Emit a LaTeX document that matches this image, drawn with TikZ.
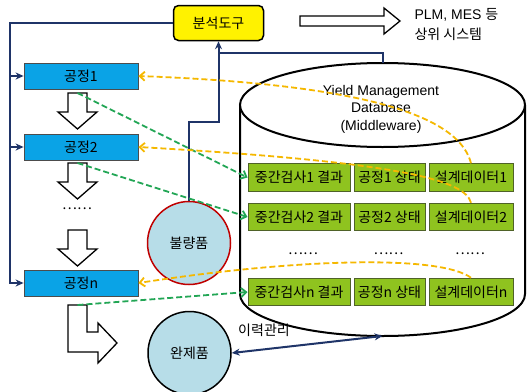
\documentclass[tikz,border=0pt]{standalone}
\usepackage{fontspec}
\setmainfont{Liberation Sans}
\newfontfamily\kr{Noto Sans CJK KR}
\usetikzlibrary{calc,arrows.meta}
\definecolor{procblue}{HTML}{0AA3E6}
\definecolor{itemgreen}{HTML}{8FC31F}
\definecolor{itemedge}{HTML}{4F6228}
\definecolor{ballfill}{HTML}{B7DDE8}
\definecolor{badred}{HTML}{C00000}
\definecolor{navyblue}{HTML}{1F3468}
\definecolor{goldline}{HTML}{F5B800}
\definecolor{dashgreen}{HTML}{22A655}
\def\hollowdown(#1,#2){\draw[hollow] (#1-9.5,#2) -- (#1+9.5,#2) -- (#1+9.5,#2+19) -- (#1+19.5,#2+19) -- (#1,#2+36) -- (#1-19.5,#2+19) -- (#1-9.5,#2+19) -- cycle;}
\tikzset{
	every node/.style={font=\kr\fontsize{14}{17}\selectfont},
	procbox/.style={draw=black!70, line width=0.8pt, fill=procblue, minimum width=114, minimum height=26, inner sep=1pt},
	itembox/.style={draw=itemedge, line width=1pt, fill=itemgreen, minimum height=27.5, inner sep=1pt},
	toolbox/.style={draw=black, line width=1.5pt, fill=yellow, rounded corners=5pt, minimum width=90, minimum height=35},
	ball/.style={circle, fill=ballfill, line width=1.5pt, minimum size=83, inner sep=0pt},
	navyline/.style={draw=navyblue, line width=2pt},
	golddash/.style={draw=goldline, line width=1.8pt, dash pattern=on 6pt off 3pt, -{Straight Barb[length=5pt,width=9pt]}},
	greendash/.style={draw=dashgreen, line width=1.8pt, dash pattern=on 6pt off 3pt, -{Straight Barb[length=5pt,width=9pt]}},
	hollow/.style={draw=black, line width=1.3pt, fill=white}
}

\begin{document}
\begin{tikzpicture}[x=1pt, y=-1pt]
			%%%%% START %%%%%
			\useasboundingbox (0,0) rectangle (527,391);
			
			% database cylinder
			\coordinate (dbtop) at (382.5,63);
			\coordinate (dbbot) at (382.5,336);
			\draw[line width=2pt, fill=white] (240,105) -- (240,294) arc[start angle=180, end angle=0, x radius=142.5, y radius=42] -- (525,105);
			\draw[line width=2pt, fill=white] (382.5,105) ellipse[x radius=142.5, y radius=42];
			\node[font=\fontsize{14}{17.5}\selectfont, align=center] (dbtext) at (381,109) {Yield Management\\Database\\(Middleware)};
			
			\foreach \r/\y in {1/177.5, 2/217, n/292} {
				\node[itembox, minimum width=102] (c\r) at (299,\y) {중간검사\r{} 결과};
				\node[itembox, minimum width=71] (s\r) at (389.5,\y) {공정\r{} 상태};
				\node[itembox, minimum width=84] (d\r) at (471,\y) {설계데이터\r};
			}
			\node (dd1) at (303,254) {……};
			\node (dd2) at (388.5,254) {……};
			\node (dd3) at (470,254) {……};
			
			% process chain
			\node[toolbox] (tool) at (218.5,23) {분석도구};
			\node[procbox] (p1) at (81,76) {공정1};
			\node[procbox] (p2) at (81,147) {공정2};
			\node[procbox] (pn) at (81,283) {공정n};
			\node (pdots) at (77,209) {……};
			
			\coordinate (f1) at (77.5,93);
			\coordinate (f2) at (77.5,163);
			\coordinate (fn) at (77.5,305);
			\foreach \ty in {93,163,230} {\hollowdown(77.5,\ty)}
			\draw[hollow] (68,305) -- (87,305) -- (87,332) -- (98,332) -- (98,323) -- (117,343) -- (98,363) -- (98,352) -- (68,352) -- cycle;
			
			\draw[hollow] (300,16) -- (384,16) -- (384,8) -- (400,21) -- (384,34) -- (384,26) -- (300,26) -- cycle;
			\node[font=\fontsize{14}{20}\selectfont, align=left, anchor=west] (upper) at (411,25) {PLM, MES {\kr 등}\\{\kr 상위 시스템}};
			
			% navy links
			\draw[navyline, -{Stealth[length=8pt,width=7pt]}] (tool.west) -| ($(pn.west)+(-14,0)$) -- (pn.west);
			\foreach \p in {p1,p2}
				\draw[navyline, -{Stealth[length=8pt,width=7pt]}] ($(\p.west)+(-14,0)$) -- (\p.west);
			\draw[navyline] (dbtop) |- ($(tool.south)+(0,12)$);
			
			\node[ball, draw=badred] (bad) at (189,243) {불량품};
			\node[ball, draw=black] (good) at (189.5,353) {완제품};
			\draw[navyline, -{Stealth[length=8pt,width=7pt]}] (bad.north) |- ($(tool.south)+(0,81)$) -- (tool.south);
			\draw[navyline, {Stealth[length=8pt,width=7pt]}-{Stealth[length=8pt,width=7pt]}] (good.east) -- (dbbot);
			\node (hist) at (264,330) {이력관리};
			
			% data flows
			\draw[greendash] (f1) -- (c1.west);
			\draw[greendash] (f2) -- (c2.west);
			\draw[greendash] (fn) -- (cn.west);
			
			\draw[golddash] (d1.north) .. controls (460,120) and (380,85) .. (p1.east);
			\draw[golddash] (d2.north) .. controls (465,180) and (400,162) .. (p2.east);
			\draw[golddash] (dn.north) .. controls (440,255) and (300,258) .. (pn.east);
			
			%%%%% END %%%%%
\end{tikzpicture}
\end{document}
